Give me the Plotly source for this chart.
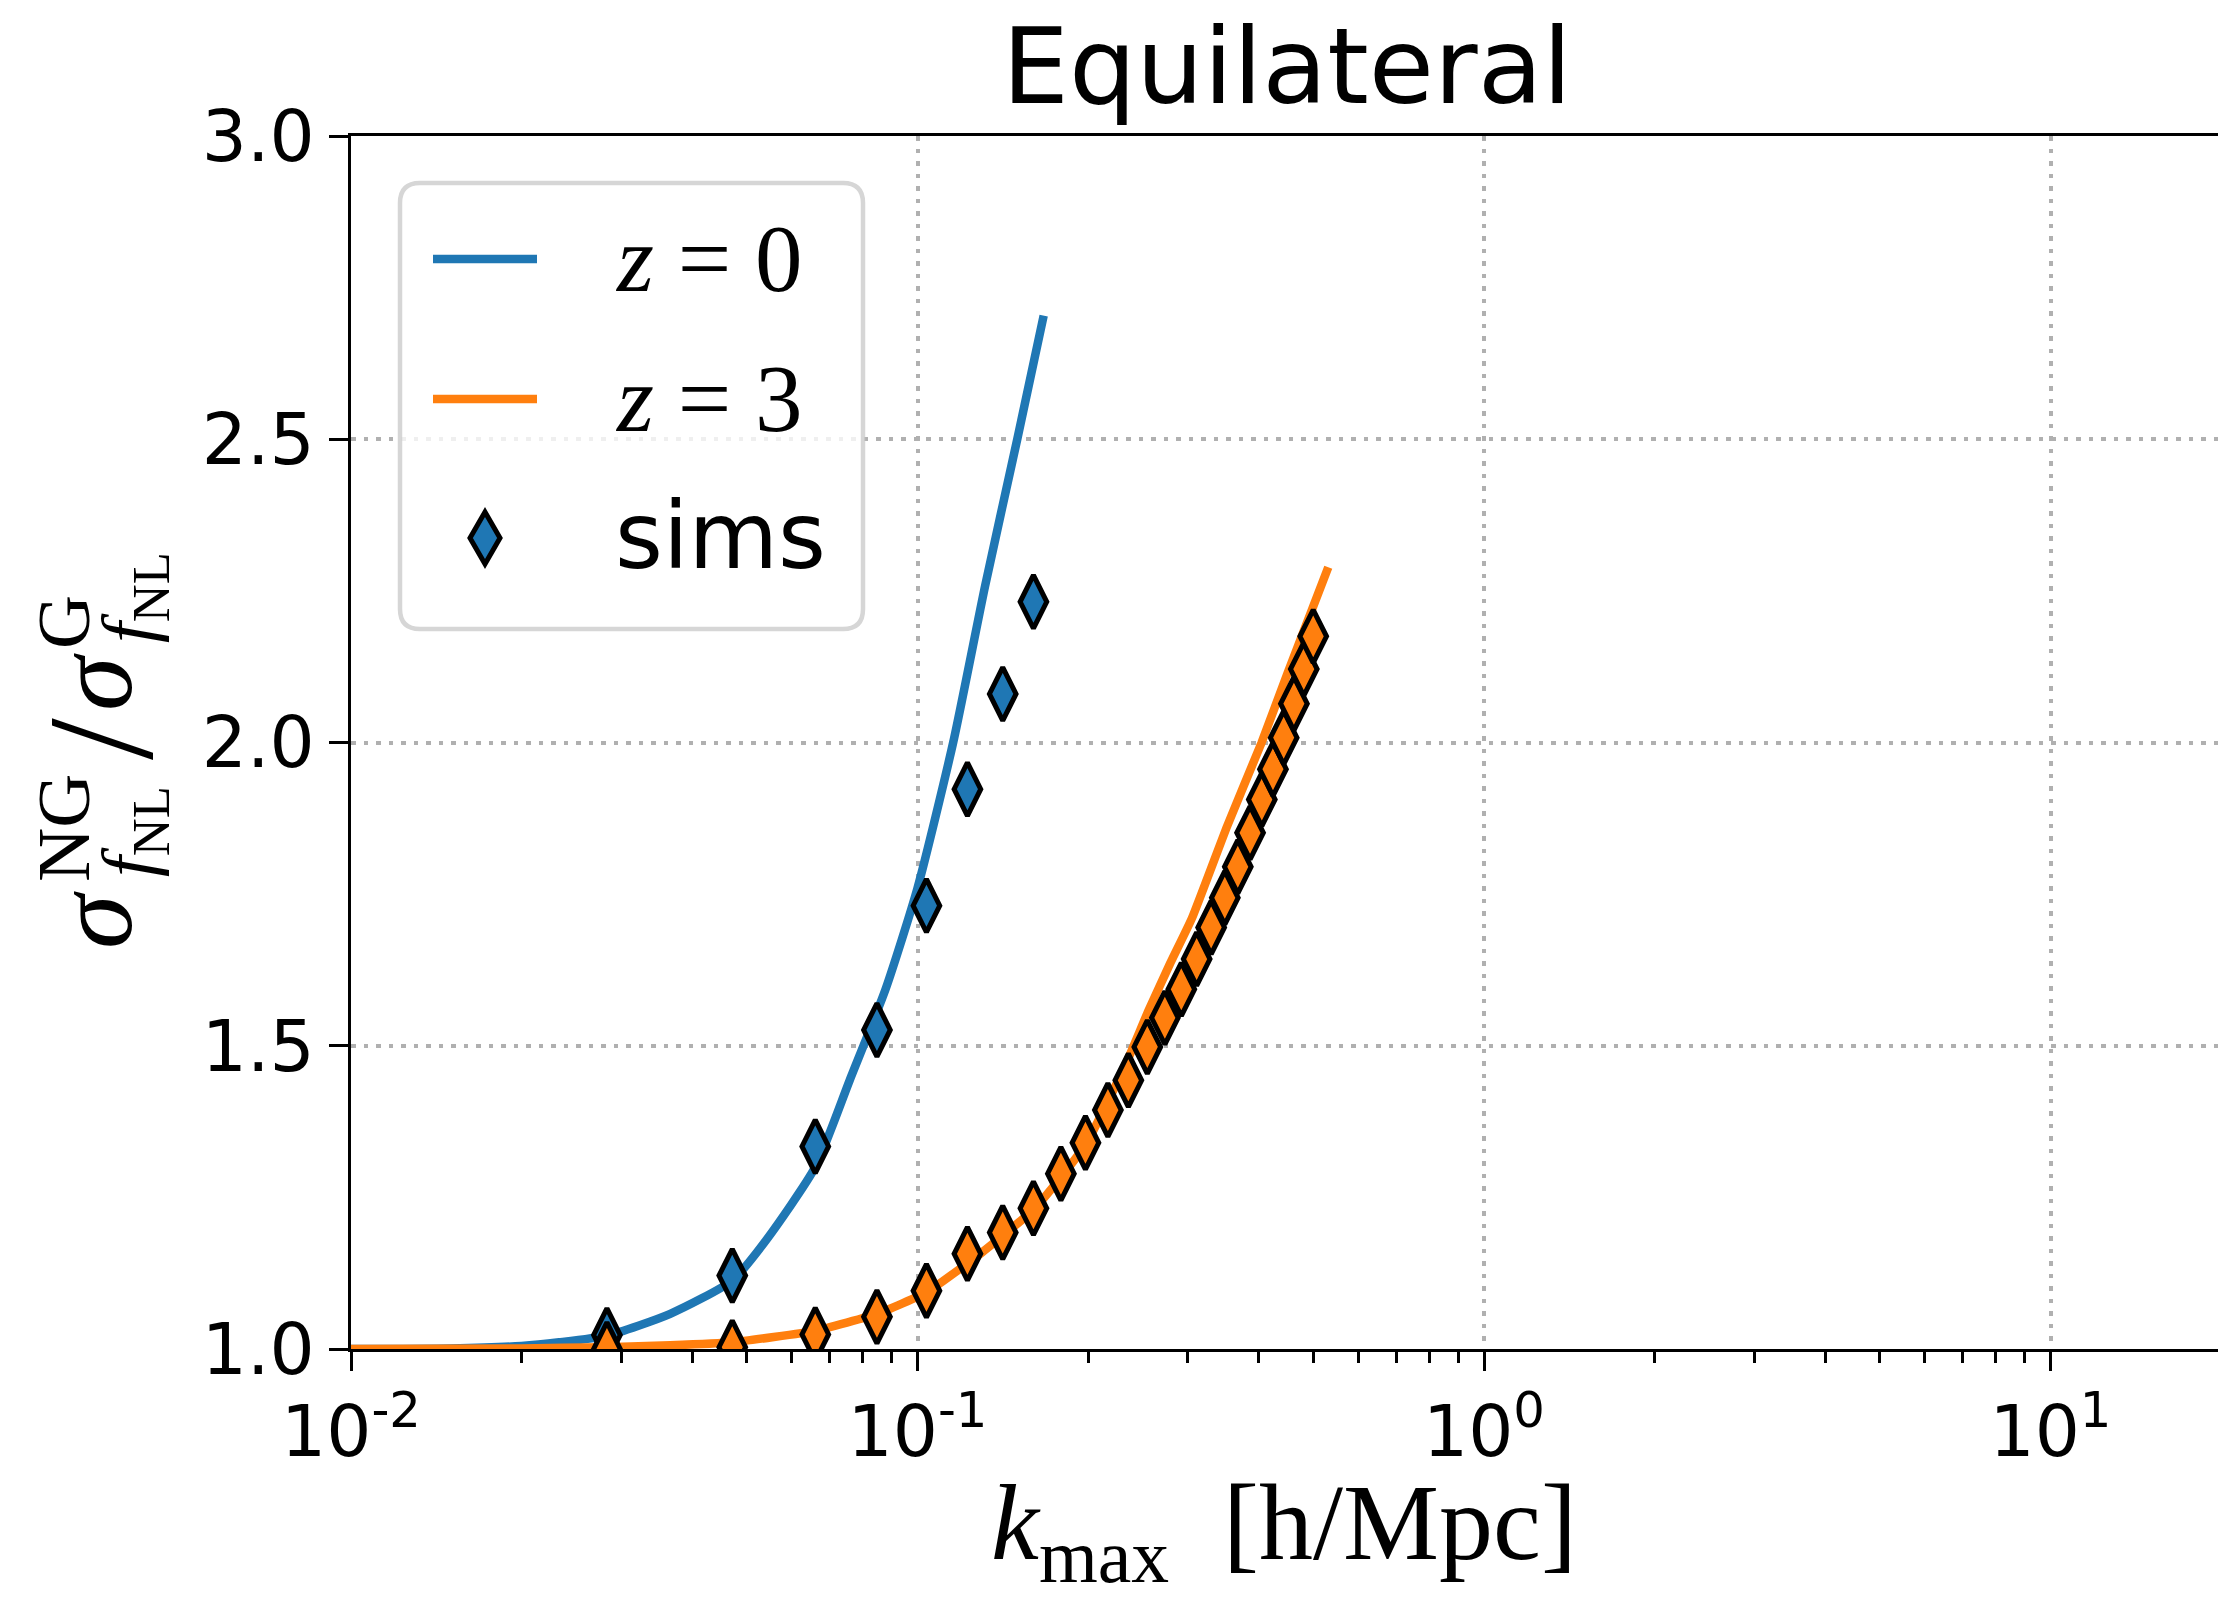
import math
import plotly.graph_objects as go

# ---- data -------------------------------------------------------------
# theory curves: sigma_NG / sigma_G versus k_max
k_theory_z0 = [0.0100, 0.0150, 0.0200, 0.0233, 0.0283, 0.0366, 0.0471, 0.0540,
               0.0660, 0.0759, 0.0878, 0.1000, 0.1156, 0.1316, 0.1500, 0.1670]
ratio_theory_z0 = [1.000, 1.001, 1.005, 1.011, 1.022, 1.058, 1.113, 1.179,
                   1.300, 1.443, 1.593, 1.760, 2.000, 2.258, 2.500, 2.704]

k_theory_z3 = [0.0100, 0.0200, 0.0283, 0.0366, 0.0471, 0.0660, 0.0850, 0.1040,
               0.1290, 0.1600, 0.1780, 0.1990, 0.2320, 0.2560, 0.2790, 0.3050,
               0.3520, 0.4050, 0.4500, 0.5310]
ratio_theory_z3 = [1.000, 1.001, 1.003, 1.006, 1.011, 1.030, 1.058, 1.094,
                   1.157, 1.229, 1.280, 1.340, 1.465, 1.559, 1.635, 1.710,
                   1.862, 2.000, 2.114, 2.289]

# simulation measurements
k_sims_z0 = [0.0283, 0.0471, 0.0660, 0.0848, 0.1037, 0.1225, 0.1414, 0.1602]
ratio_sims_z0 = [1.023, 1.121, 1.334, 1.526, 1.731, 1.923, 2.080, 2.232]

k_sims_z3 = [0.0283, 0.0471, 0.0660, 0.0848, 0.1037, 0.1225, 0.1414, 0.1602,
             0.1791, 0.1979, 0.2168, 0.2356, 0.2545, 0.2733, 0.2922, 0.3110,
             0.3299, 0.3487, 0.3676, 0.3864, 0.4053, 0.4241, 0.4430, 0.4618,
             0.4807, 0.4995]
ratio_sims_z3 = [1.000, 1.003, 1.024, 1.053, 1.096, 1.157, 1.192, 1.232,
                 1.289, 1.340, 1.394, 1.443, 1.498, 1.546, 1.593, 1.643,
                 1.695, 1.744, 1.795, 1.851, 1.906, 1.956, 2.008, 2.064,
                 2.121, 2.175]

x_tick_vals = [0.01, 0.1, 1, 10]
x_tick_text = ["10<sup>-2</sup>", "10<sup>-1</sup>", "10<sup>0</sup>", "10<sup>1</sup>"]
y_tick_vals = [1.0, 1.5, 2.0, 2.5, 3.0]
y_tick_text = ["1.0", "1.5", "2.0", "2.5", "3.0"]

# ---- styling ----------------------------------------------------------
W, H = 2218, 1598
BLUE = "#1f77b4"
ORANGE = "#ff7f0e"
GRID = "#b0b0b0"
SANS = "DejaVu Sans"
SERIF = "Liberation Serif"
LINE_W = 8.5
MARKER = dict(symbol="diamond-tall", size=38)
EDGE = dict(color="black", width=5)

# plot area in pixels
PL, PR, PT, PB = 351, 2218, 136, 1349
DECADE_PX = 566.5


def fx(p):
    return p / W


def fy(p):
    return 1 - p / H


fig = go.Figure()

fig.add_trace(go.Scatter(x=k_theory_z0, y=ratio_theory_z0, mode="lines",
                         line=dict(color=BLUE, width=LINE_W, shape="spline", smoothing=0.6),
                         showlegend=False))
fig.add_trace(go.Scatter(x=k_theory_z3, y=ratio_theory_z3, mode="lines",
                         line=dict(color=ORANGE, width=LINE_W, shape="spline", smoothing=0.4),
                         showlegend=False))
fig.add_trace(go.Scatter(x=k_sims_z0, y=ratio_sims_z0, mode="markers",
                         marker=dict(**MARKER, color=BLUE, line=EDGE),
                         showlegend=False))
fig.add_trace(go.Scatter(x=k_sims_z3, y=ratio_sims_z3, mode="markers",
                         marker=dict(**MARKER, color=ORANGE, line=EDGE),
                         showlegend=False))

x_right = -2 + (PR - PL) / DECADE_PX
minor_vals = [m * 10 ** e for e in (-2, -1, 0, 1) for m in range(2, 10)]

fig.update_xaxes(
    type="log", range=[-2, x_right], domain=[fx(PL), fx(PR)],
    tickmode="array", tickvals=x_tick_vals, ticktext=x_tick_text,
    tickfont=dict(family=SANS, size=71, color="black"),
    ticks="outside", ticklen=19, tickwidth=3.3, tickcolor="black",
    showline=True, linecolor="black", linewidth=3.3, mirror=True,
    showgrid=True, gridcolor=GRID, gridwidth=3.5, griddash="4.5px,8px",
    zeroline=False, automargin=False,
    minor=dict(tickmode="array", tickvals=minor_vals, ticks="outside",
               ticklen=11, tickwidth=2.5, tickcolor="black", showgrid=False),
)
fig.update_yaxes(
    range=[1.0, 3.0], domain=[fy(PB), fy(PT)],
    tickmode="array", tickvals=y_tick_vals, ticktext=y_tick_text,
    tickfont=dict(family=SANS, size=71, color="black"),
    ticks="outside", ticklen=19, tickwidth=3.3, tickcolor="black",
    showline=True, linecolor="black", linewidth=3.3, mirror=False,
    showgrid=True, gridcolor=GRID, gridwidth=3.5, griddash="4.5px,8px",
    zeroline=False, automargin=False,
)

annotations = []


def note(text, x, y, size, family, angle=0, xanchor="center", yanchor="middle"):
    annotations.append(dict(text=text, x=fx(x), y=fy(y), xref="paper", yref="paper",
                            showarrow=False, textangle=angle, xanchor=xanchor,
                            yanchor=yanchor,
                            font=dict(family=family, size=size, color="black")))


# title and x-axis label
note("Equilateral", 1287, 66, 106, SANS)
note("<i>k</i><sub>max</sub>\u00a0\u00a0[h/Mpc]", 1284, 1530, 108, SERIF)

# y-axis label, sigma^NG_{f_NL} / sigma^G_{f_NL}, built piece by piece
note("<i>σ</i>", 94, 920, 110, SERIF, angle=-90)
note("NG", 63, 828, 75, SERIF, angle=-90)
note("<i>f</i><sub>NL</sub>", 133, 832, 75, SERIF, angle=-90)
note("/", 101, 739, 150, SERIF, angle=-90)
note("<i>σ</i>", 94, 682, 110, SERIF, angle=-90)
note("G", 63, 622, 75, SERIF, angle=-90)
note("<i>f</i><sub>NL</sub>", 133, 598, 75, SERIF, angle=-90)

# legend
LX0, LX1, LY0, LY1, R = 400, 863, 183, 629, 20
rx, ry = R / W, R / H
x0, x1, y0, y1 = fx(LX0), fx(LX1), fy(LY0), fy(LY1)
box_path = (f"M{x0 + rx},{y0} L{x1 - rx},{y0} Q{x1},{y0} {x1},{y0 - ry} "
            f"L{x1},{y1 + ry} Q{x1},{y1} {x1 - rx},{y1} L{x0 + rx},{y1} "
            f"Q{x0},{y1} {x0},{y1 + ry} L{x0},{y0 - ry} Q{x0},{y0} {x0 + rx},{y0} Z")
shapes = [
    dict(type="path", path=box_path, xref="paper", yref="paper",
         fillcolor="rgba(255,255,255,0.8)",
         line=dict(color="rgba(204,204,204,0.8)", width=4.5), layer="above"),
    dict(type="line", xref="paper", yref="paper", x0=fx(433), x1=fx(537),
         y0=fy(259), y1=fy(259), line=dict(color=BLUE, width=LINE_W), layer="above"),
    dict(type="line", xref="paper", yref="paper", x0=fx(433), x1=fx(537),
         y0=fy(399), y1=fy(399), line=dict(color=ORANGE, width=LINE_W), layer="above"),
]
cx, cy, hw, hh = 485, 538, 15, 26
diamond = (f"M{fx(cx)},{fy(cy - hh)} L{fx(cx + hw)},{fy(cy)} "
           f"L{fx(cx)},{fy(cy + hh)} L{fx(cx - hw)},{fy(cy)} Z")
shapes.append(dict(type="path", path=diamond, xref="paper", yref="paper",
                   fillcolor=BLUE, line=EDGE, layer="above"))

note("<i>z</i> = 0", 613, 259, 95, SERIF, xanchor="left")
note("<i>z</i> = 3", 613, 399, 95, SERIF, xanchor="left")
note("sims", 613, 536, 92, SANS, xanchor="left")

fig.update_layout(
    width=W, height=H, margin=dict(l=0, r=0, t=0, b=0),
    paper_bgcolor="white", plot_bgcolor="white",
    showlegend=False, annotations=annotations, shapes=shapes,
)

fig.write_html("out.html")
